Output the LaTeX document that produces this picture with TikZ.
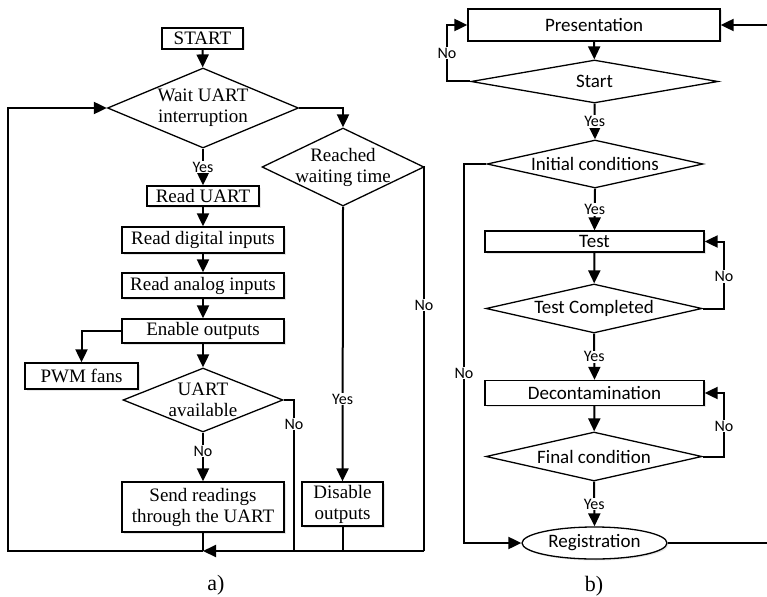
\documentclass[tikz,border=0pt]{standalone}
\usepackage{fontspec}
\setmainfont{Liberation Serif}
\setsansfont{Carlito}
\usetikzlibrary{shapes.geometric,arrows.meta,shadows}

\tikzset{
  box/.style={draw, line width=1.3pt, fill=white, inner sep=1pt, align=center,
    font=\fontsize{19}{21}\selectfont,
    drop shadow={shadow xshift=1.5pt, shadow yshift=-1.5pt, opacity=0.2}},
  sbox/.style={box, font=\sffamily\fontsize{19}{21}\selectfont},
  dec/.style={diamond, draw, line width=1.3pt, fill=white, inner sep=-3pt, align=center,
    font=\fontsize{19}{21}\selectfont},
  sdec/.style={dec, font=\sffamily\fontsize{19}{21}\selectfont},
  lab/.style={fill=white, inner sep=1pt, font=\sffamily\fontsize{16}{18}\selectfont},
  link/.style={line width=2pt},
  flow/.style={link, -{Triangle[length=13pt,width=12pt]}},
}

\begin{document}
\begin{tikzpicture}[x=1pt,y=-1pt]
  \useasboundingbox (0,0) rectangle (767,596);
  % a) left flowchart
  \node[box, minimum width=81pt, minimum height=21pt] (start) at (202.5,38.5) {START};
  \node[dec, minimum width=191pt, minimum height=80pt, shape aspect=2.39] (wait) at (203,108) {Wait UART\\interruption};
  \node[dec, minimum width=162pt, minimum height=78pt, shape aspect=2.08] (reach) at (343,167) {Reached\\waiting time};
  \node[box, minimum width=112pt, minimum height=20pt] (readu) at (203,196) {Read UART};
  \node[box, minimum width=162pt, minimum height=26pt] (readd) at (203,240) {Read digital inputs};
  \node[box, minimum width=162pt, minimum height=25pt] (reada) at (203,285.5) {Read analog inputs};
  \node[box, minimum width=162pt, minimum height=24pt] (enable) at (203,331) {Enable outputs};
  \node[box, minimum width=113pt, minimum height=26pt] (pwm) at (81.5,376) {PWM fans};
  \node[dec, minimum width=160pt, minimum height=64pt, shape aspect=2.5] (avail) at (203,400) {UART\\available};
  \node[box, minimum width=162pt, minimum height=50pt] (send) at (203,507) {Send readings\\through the UART};
  \node[box, minimum width=81pt, minimum height=44pt] (disable) at (342.5,504) {Disable\\outputs};
  \coordinate (bl) at (7.5,551);
  \coordinate (mrg) at (203,551);
  \coordinate (ab) at (294,551);
  \coordinate (dis) at (342.5,551);
  \coordinate (br) at (424,551);

  \draw[flow] (start) -- (wait);
  \draw[flow] (wait.east) -| (reach.north);
  \draw[flow] (wait.south) -- node[lab] {Yes} (readu.north);
  \draw[flow] (readu) -- (readd);
  \draw[flow] (readd) -- (reada);
  \draw[flow] (reada) -- (enable);
  \draw[flow] (enable) -- (avail);
  \draw[flow] (enable.west) -| (pwm.north);
  \draw[flow] (avail.south) -- node[lab, pos=0.38] {No} (send.north);
  \draw[link] (avail.east) -| node[lab, pos=0.58] {No} (ab);
  \draw[flow] (reach.south) -- node[lab, pos=0.7] {Yes} (disable.north);
  \draw[link] (reach.east) -| node[lab, pos=0.68] {No} (br);
  \draw[link] (send.south) -- (mrg);
  \draw[link] (disable.south) -- (dis);
  \draw[flow] (br) -- (mrg);
  \draw[flow] (mrg) -- (bl) |- (wait.west);
  \node[font=\fontsize{22}{24}\selectfont] (capa) at (216,585) {a)};

  % b) right flowchart
  \node[sbox, minimum width=252pt, minimum height=32pt] (pres) at (594,25) {Presentation};
  \node[sdec, minimum width=247pt, minimum height=43pt, shape aspect=5.7] (go) at (594.5,81.5) {Start};
  \node[sdec, minimum width=216pt, minimum height=48pt, shape aspect=4.5] (init) at (595,164) {Initial conditions};
  \node[sbox, minimum width=219pt, minimum height=21pt] (test) at (594.5,241.5) {Test};
  \node[sdec, minimum width=216pt, minimum height=49pt, shape aspect=4.4] (tdone) at (594,308.5) {Test Completed};
  \node[sbox, minimum width=219pt, minimum height=25pt] (decon) at (594.5,393) {Decontamination};
  \node[sdec, minimum width=216pt, minimum height=49pt, shape aspect=4.4] (final) at (594,456.5) {Final condition};
  \node[ellipse, draw, line width=1.3pt, fill=white, inner sep=0pt, font=\sffamily\fontsize{19}{21}\selectfont,
    minimum width=145pt, minimum height=32pt,
    drop shadow={shadow xshift=1.5pt, shadow yshift=-1.5pt, opacity=0.2}] (reg) at (594.5,543) {Registration};
  \coordinate (sl) at (447,81.5);
  \coordinate (il) at (464,164);
  \coordinate (tr) at (724,308.5);
  \coordinate (fr) at (724,456.5);
  \coordinate (rt) at (771,25);

  \draw[flow] (pres) -- (go);
  \draw[flow] (go.west) -- (sl) |- node[lab, pos=0.25] {No} (pres.west);
  \draw[flow] (go.south) -- node[lab] {Yes} (init.north);
  \draw[flow] (init.west) -- (il) |- node[lab, pos=0.276] {No} (reg.west);
  \draw[flow] (init.south) -- node[lab] {Yes} (test.north);
  \draw[flow] (test) -- (tdone);
  \draw[flow] (tdone.east) -- (tr) |- node[lab, pos=0.24] {No} (test.east);
  \draw[flow] (tdone.south) -- node[lab] {Yes} (decon.north);
  \draw[flow] (decon) -- (final);
  \draw[flow] (final.east) -- (fr) |- node[lab, pos=0.24] {No} (decon.east);
  \draw[flow] (final.south) -- node[lab] {Yes} (reg.north);
  \draw[flow] (reg.east) -| (rt) -- (pres.east);
  \node[font=\fontsize{22}{24}\selectfont] (capb) at (594,586) {b)};
\end{tikzpicture}
\end{document}
